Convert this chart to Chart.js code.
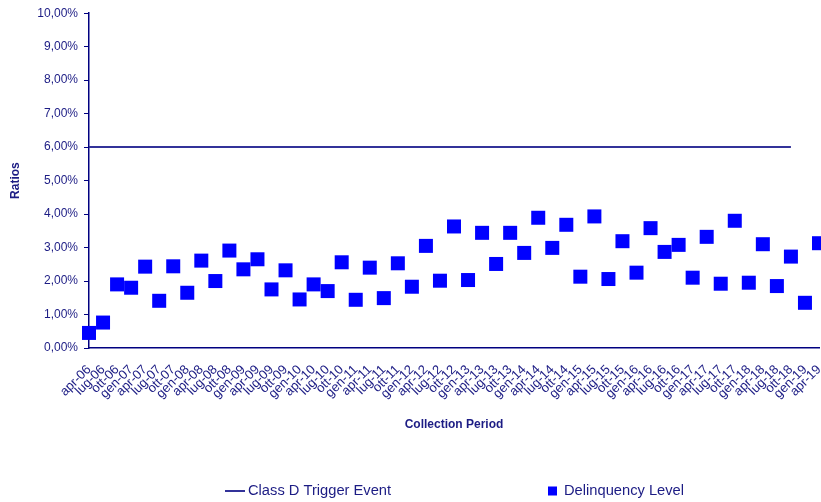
<!DOCTYPE html>
<html>
<head>
<meta charset="utf-8">
<script src="https://cdn.jsdelivr.net/npm/chart.js@4.4.1/dist/chart.umd.min.js"></script>
<style>
  html, body { margin: 0; padding: 0; background: #ffffff; }
  #wrap { width: 821px; height: 502px; position: relative; }
</style>
</head>
<body>
<div id="wrap"><canvas id="c" width="821" height="502"></canvas></div>
<script>
const categories = ['apr-06','lug-06','ott-06','gen-07','apr-07','lug-07','ott-07','gen-08','apr-08','lug-08','ott-08','gen-09','apr-09','lug-09','ott-09','gen-10','apr-10','lug-10','ott-10','gen-11','apr-11','lug-11','ott-11','gen-12','apr-12','lug-12','ott-12','gen-13','apr-13','lug-13','ott-13','gen-14','apr-14','lug-14','ott-14','gen-15','apr-15','lug-15','ott-15','gen-16','apr-16','lug-16','ott-16','gen-17','apr-17','lug-17','ott-17','gen-18','apr-18','lug-18','ott-18','gen-19','apr-19'];

const delinquencyLevel = [0.45,0.76,1.90,1.80,2.43,1.41,2.44,1.65,2.61,2.00,2.91,2.35,2.65,1.75,2.32,1.45,1.90,1.70,2.56,1.44,2.40,1.49,2.53,1.83,3.05,2.01,3.63,2.03,3.44,2.51,3.44,2.84,3.89,2.99,3.68,2.13,3.93,2.06,3.19,2.25,3.58,2.87,3.08,2.10,3.32,1.92,3.80,1.95,3.10,1.85,2.73,1.35,3.13];

const classDTrigger = [6,6,6,6,6,6,6,6,6,6,6,6,6,6,6,6,6,6,6,6,6,6,6,6,6,6,6,6,6,6,6,6,6,6,6,6,6,6,6,6,6,6,6,6,6,6,6,6,6,6,6,null,null];

const yTicks = [0,1,2,3,4,5,6,7,8,9,10];
const seriesNames = ['Class D Trigger Event', 'Delinquency Level'];

const FONT = "'Liberation Sans', Arial, sans-serif";
const NAVY = '#1c1c84';
const AXIS = '#000080';

const legendPlugin = {
  id: 'bottomLegend',
  afterDraw(chart) {
    const ctx = chart.ctx;
    const y = 491;
    ctx.save();
    ctx.font = '14.7px ' + FONT;
    ctx.textBaseline = 'middle';
    ctx.textAlign = 'left';
    ctx.strokeStyle = chart.data.datasets[0].borderColor;
    ctx.lineWidth = 2;
    ctx.beginPath();
    ctx.moveTo(225, y);
    ctx.lineTo(245, y);
    ctx.stroke();
    ctx.fillStyle = NAVY;
    ctx.fillText(chart.data.datasets[0].label, 248, y);
    ctx.fillStyle = chart.data.datasets[1].backgroundColor;
    ctx.fillRect(548, y - 4.5, 9, 9);
    ctx.fillStyle = NAVY;
    ctx.fillText(chart.data.datasets[1].label, 564, y);
    ctx.restore();
  }
};

new Chart(document.getElementById('c'), {
  type: 'line',
  data: {
    labels: categories,
    datasets: [
      {
        label: seriesNames[0],
        data: classDTrigger,
        borderColor: '#333399',
        borderWidth: 2,
        pointRadius: 0,
        fill: false,
        spanGaps: false,
        clip: false
      },
      {
        label: seriesNames[1],
        data: delinquencyLevel,
        showLine: false,
        pointStyle: 'rect',
        pointRadius: 9.9,
        pointHoverRadius: 9.9,
        backgroundColor: '#0000ff',
        borderColor: '#0000ff',
        pointBorderWidth: 0,
        clip: false
      }
    ]
  },
  options: {
    responsive: false,
    animation: false,
    events: [],
    layout: { autoPadding: false, padding: { top: 13, right: 0, bottom: 62, left: 0 } },
    plugins: {
      legend: { display: false },
      tooltip: { enabled: false },
      title: { display: false }
    },
    scales: {
      x: {
        type: 'category',
        offset: false,
        grid: { display: false },
        border: { display: true, color: AXIS, width: 1.5 },
        ticks: {
          autoSkip: false,
          maxRotation: 45,
          minRotation: 45,
          padding: 6,
          color: NAVY,
          font: { family: FONT, size: 13 }
        },
        title: {
          display: true,
          text: 'Collection Period',
          color: NAVY,
          font: { family: FONT, size: 12, weight: 'bold' },
          padding: { top: 0, bottom: 8 }
        },
        afterFit(axis) { axis.height = 92; axis.paddingRight = 2; }
      },
      y: {
        min: 0,
        max: 10,
        afterBuildTicks(axis) { axis.ticks = yTicks.map(v => ({ value: v })); },
        grid: { display: true, drawOnChartArea: false, drawTicks: true, tickLength: 5, color: AXIS },
        border: { display: true, color: AXIS, width: 1.5 },
        ticks: {
          padding: 6,
          color: NAVY,
          font: { family: FONT, size: 12 },
          callback: (v) => v.toFixed(2).replace('.', ',') + '%'
        },
        title: {
          display: true,
          text: 'Ratios',
          color: NAVY,
          font: { family: FONT, size: 12, weight: 'bold' },
          padding: { top: 8, bottom: 0 }
        },
        afterFit(axis) { axis.width = 89; }
      }
    }
  },
  plugins: [legendPlugin]
});
</script>
</body>
</html>
